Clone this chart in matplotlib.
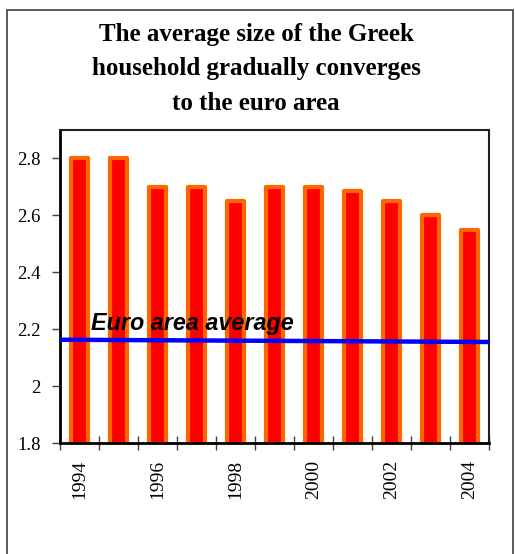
import numpy as np
import matplotlib
matplotlib.use("Agg")
import matplotlib.pyplot as plt
from matplotlib.patches import Rectangle

years = [1994, 1995, 1996, 1997, 1998, 1999, 2000, 2001, 2002, 2003, 2004]
greek_size = [2.80, 2.80, 2.70, 2.70, 2.65, 2.70, 2.70, 2.685, 2.65, 2.60, 2.55]
euro_avg = [2.163, 2.155]   # start / end of the euro area line
year_labels = [str(y) if y % 2 == 0 else "" for y in years]

title = "The average size of the Greek\nhousehold gradually converges\nto the euro area"

fig = plt.figure(figsize=(5.15, 5.54), dpi=100)
fig.patch.set_facecolor("white")

# open frame round the whole chart
fig.add_artist(Rectangle((7 / 515, -0.05), 506 / 515, 1.05 - 10 / 554,
                         transform=fig.transFigure, fill=False,
                         edgecolor="#404040", linewidth=1.2))

fig.text(0.497, 1 - 69 / 554, title, ha="center", va="center",
         family="Liberation Serif", fontweight="bold", fontsize=18,
         linespacing=1.64)

ax = fig.add_axes([60 / 515, 1 - 443 / 554, 429 / 515, 313 / 554])

x = np.arange(len(years))
ax.bar(x, greek_size, width=0.46, color="#FF0000", edgecolor="#FF6600",
       linewidth=3, joinstyle="round", zorder=2)

ax.plot([-0.5, len(years) - 0.5], euro_avg, color="#0000FF",
        linewidth=3.2, zorder=3)
ax.text(0.3, 2.197, "Euro area average", family="Liberation Sans",
        fontweight="bold", fontstyle="italic", fontsize=16.8, zorder=4)

ax.set_xlim(-0.5, len(years) - 0.5)
ax.set_ylim(1.8, 2.9)

ax.set_yticks([1.8, 2.0, 2.2, 2.4, 2.6, 2.8])
ax.set_yticklabels(["1.8", "2", "2.2", "2.4", "2.6", "2.8"],
                   family="Liberation Serif", fontsize=13.5)
ax.tick_params(axis="y", direction="out", length=6, width=1,
               color="#404040", pad=8)

ax.set_xticks(np.arange(-0.5, len(years)), minor=False)
ax.set_xticklabels([""] * (len(years) + 1))
ax.set_xticks(x, minor=True)
ax.set_xticklabels(year_labels, minor=True, rotation=90,
                   family="Liberation Serif", fontsize=14)
ax.tick_params(axis="x", which="major", direction="inout", length=10,
               width=1, color="#404040")
ax.tick_params(axis="x", which="minor", length=0, pad=12)

for side in ["left", "bottom"]:
    ax.spines[side].set_linewidth(2)
    ax.spines[side].set_color("black")
for side in ["top", "right"]:
    ax.spines[side].set_linewidth(1.5)
    ax.spines[side].set_color("#202020")

fig.savefig("out.png", dpi=100)
